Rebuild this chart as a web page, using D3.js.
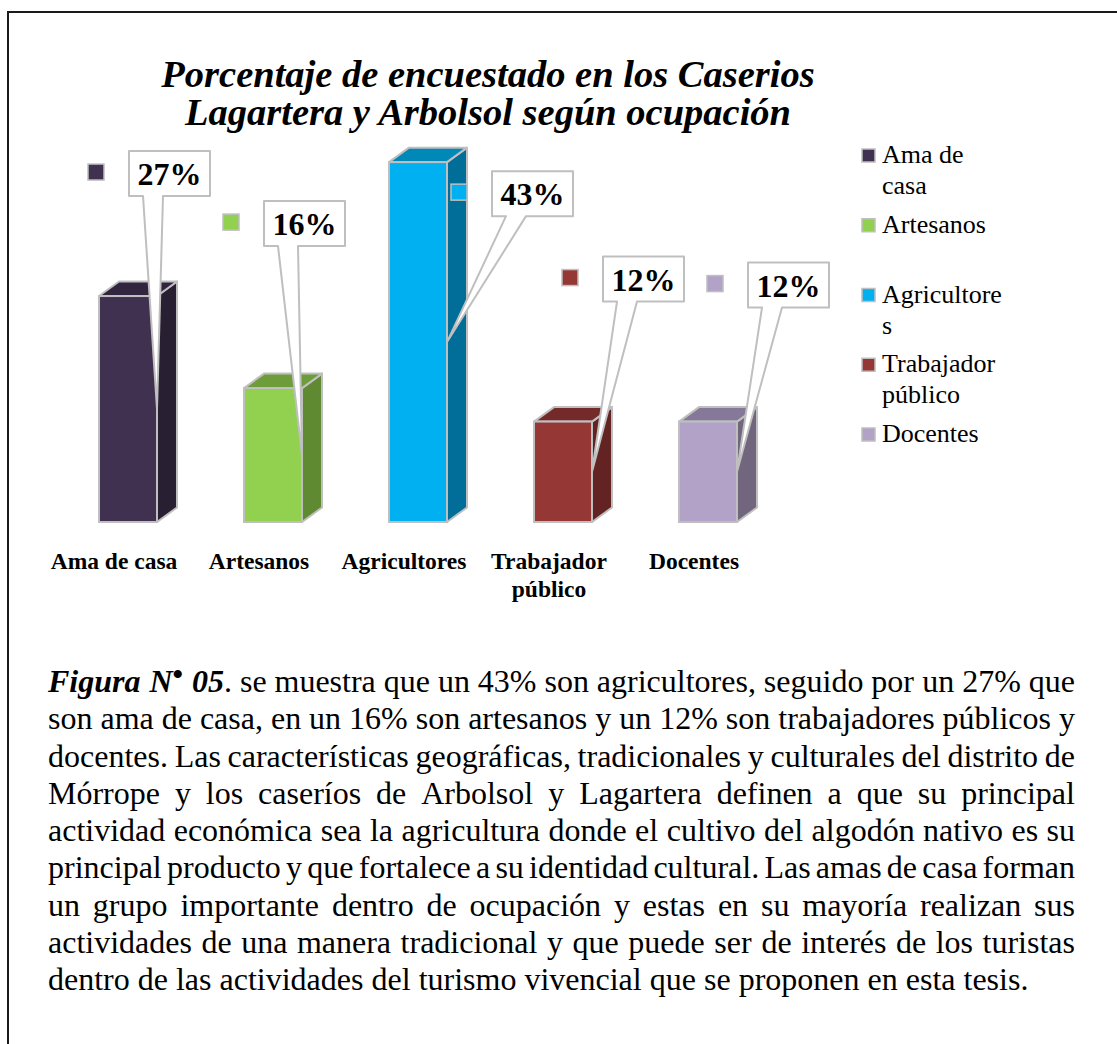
<!DOCTYPE html>
<html>
<head>
<meta charset="utf-8">
<script src="https://cdn.jsdelivr.net/npm/d3@7"></script>
<style>
  body { margin: 0; background: #fff; }
  text { font-family: "Liberation Serif", "Times New Roman", serif; }
</style>
</head>
<body>
<div id="chart"></div>
<script>
// data
var categories = ["Ama de casa", "Artesanos", "Agricultores", "Trabajador público", "Docentes"];
var tickLabels = [["Ama de casa"], ["Artesanos"], ["Agricultores"], ["Trabajador", "público"], ["Docentes"]];
var percentages = [27, 16, 43, 12, 12];
var legendLines = [["Ama de", "casa"], ["Artesanos"], ["Agricultore", "s"], ["Trabajador", "público"], ["Docentes"]];
var titleLines = ["Porcentaje de encuestado en los Caserios", "Lagartera y Arbolsol según ocupación"];
var captionLines = [
  "Figura N• 05. se muestra que un 43% son agricultores, seguido por un 27% que",
  "son ama de casa, en un 16% son artesanos y un 12% son trabajadores públicos y",
  "docentes. Las características geográficas, tradicionales y culturales del distrito de",
  "Mórrope y los caseríos de Arbolsol y Lagartera definen a que su principal",
  "actividad económica sea la agricultura donde el cultivo del algodón nativo es su",
  "principal producto y que fortalece a su identidad cultural. Las amas de casa forman",
  "un grupo importante dentro de ocupación y estas en su mayoría realizan sus",
  "actividades de una manera tradicional y que puede ser de interés de los turistas",
  "dentro de las actividades del turismo vivencial que se proponen en esta tesis."
];

// colours: front, side, top
var frontColors = ["#413151", "#92d050", "#00b0f0", "#953735", "#b3a2c7"];
var sideColors = ["#281f33", "#5f8a32", "#006e99", "#622322", "#72667f"];
var topColors = ["#31253f", "#6f9c3a", "#0088b8", "#732a28", "#867899"];

// where each data label box sits, relative to the bar's front top-right corner
var labelOffsets = [[-28, -145], [-38, -187], [45, 9], [11, -165], [11, -159]];

var W = 1117, H = 1044;
var depthX = 20, depthY = 14.5;
var edge = "#bfbfbf";

var svg = d3.select("#chart").append("svg")
    .attr("width", W)
    .attr("height", H);

// page border (left + top)
svg.append("path")
    .attr("d", "M8," + H + "V12H" + W)
    .attr("fill", "none")
    .attr("stroke", "#1a1a1a")
    .attr("stroke-width", 2);

// scales
var x = d3.scaleBand()
    .domain(categories)
    .range([55.5, 780.5])
    .paddingInner(0.6)
    .paddingOuter(0.3);

var y = d3.scaleLinear()
    .domain([0, 45])
    .range([522, 145.4]);

// title
svg.append("g").selectAll("text")
    .data(titleLines)
    .enter().append("text")
    .attr("x", 488)
    .attr("y", function (d, i) { return 87 + i * 38; })
    .attr("text-anchor", "middle")
    .style("font-size", "38.5px")
    .style("font-weight", "bold")
    .style("font-style", "italic")
    .text(function (d) { return d; });

//////////
// BARS //
//////////
var bars = svg.append("g").selectAll("g")
    .data(percentages)
    .enter().append("g");

// right face
bars.append("path")
    .attr("d", function (d, i) {
        var x1 = x(categories[i]) + x.bandwidth();
        return "M" + x1 + "," + y(0) + "L" + (x1 + depthX) + "," + (y(0) - depthY) +
            "L" + (x1 + depthX) + "," + (y(d) - depthY) + "L" + x1 + "," + y(d) + "Z";
    })
    .attr("fill", function (d, i) { return sideColors[i]; })
    .attr("stroke", edge)
    .attr("stroke-width", 2)
    .attr("stroke-linejoin", "round");

// top face
bars.append("path")
    .attr("d", function (d, i) {
        var x0 = x(categories[i]), x1 = x0 + x.bandwidth();
        return "M" + x0 + "," + y(d) + "L" + (x0 + depthX) + "," + (y(d) - depthY) +
            "L" + (x1 + depthX) + "," + (y(d) - depthY) + "L" + x1 + "," + y(d) + "Z";
    })
    .attr("fill", function (d, i) { return topColors[i]; })
    .attr("stroke", edge)
    .attr("stroke-width", 2)
    .attr("stroke-linejoin", "round");

// front face
bars.append("rect")
    .attr("x", function (d, i) { return x(categories[i]); })
    .attr("y", function (d) { return y(d); })
    .attr("width", x.bandwidth())
    .attr("height", function (d) { return y(0) - y(d); })
    .attr("fill", function (d, i) { return frontColors[i]; })
    .attr("stroke", edge)
    .attr("stroke-width", 2);

// category labels
var ticks = svg.append("g").selectAll("text")
    .data(tickLabels)
    .enter().append("text")
    .attr("text-anchor", "middle")
    .style("font-size", "23.5px")
    .style("font-weight", "bold");
ticks.selectAll("tspan")
    .data(function (d, i) { return d.map(function (t) { return { t: t, i: i }; }); })
    .enter().append("tspan")
    .attr("x", function (d) { return x(categories[d.i]) + x.bandwidth() / 2 - 14; })
    .attr("y", function (d, j) { return 569 + j * 28; })
    .text(function (d) { return d.t; });

/////////////////
// DATA LABELS //
/////////////////
var boxW = 81, boxH = 45;
var labels = svg.append("g").selectAll("g")
    .data(percentages)
    .enter().append("g");

function boxPos(d, i) {
    var rx = x(categories[i]) + x.bandwidth();
    return { bx: rx + labelOffsets[i][0], by: y(d) + labelOffsets[i][1], tipX: rx, tipY: (y(d) + y(0)) / 2 };
}

labels.append("path")
    .attr("d", function (d, i) {
        var p = boxPos(d, i);
        return "M" + p.bx + "," + p.by + "H" + (p.bx + boxW) + "V" + (p.by + boxH) +
            "H" + (p.bx + 34) + "L" + p.tipX + "," + p.tipY + "L" + (p.bx + 14) + "," + (p.by + boxH) +
            "H" + p.bx + "Z";
    })
    .attr("fill", "#fff")
    .attr("stroke", edge)
    .attr("stroke-width", 2)
    .attr("stroke-linejoin", "round");

labels.append("text")
    .attr("x", function (d, i) { return boxPos(d, i).bx + boxW / 2; })
    .attr("y", function (d, i) { return boxPos(d, i).by + 34; })
    .attr("text-anchor", "middle")
    .style("font-size", "32px")
    .style("font-weight", "bold")
    .text(function (d) { return d + "%"; });

// legend key squares next to labels
labels.append("rect")
    .attr("x", function (d, i) { return boxPos(d, i).bx - 41; })
    .attr("y", function (d, i) { return boxPos(d, i).by + boxH / 2 - 9.5; })
    .attr("width", 16)
    .attr("height", 16)
    .attr("fill", function (d, i) { return frontColors[i]; })
    .attr("stroke", edge)
    .attr("stroke-width", 1.5);

////////////
// LEGEND //
////////////
var legend = svg.append("g").selectAll("g")
    .data(legendLines)
    .enter().append("g")
    .attr("transform", function (d, i) { return "translate(0," + (163 + i * 69.75) + ")"; });

legend.append("rect")
    .attr("x", 862)
    .attr("y", -14)
    .attr("width", 13)
    .attr("height", 13)
    .attr("fill", function (d, i) { return frontColors[i]; })
    .attr("stroke", edge)
    .attr("stroke-width", 1.5);

legend.append("text")
    .style("font-size", "26px")
    .selectAll("tspan")
    .data(function (d) { return d; })
    .enter().append("tspan")
    .attr("x", 882)
    .attr("y", function (d, j) { return j * 31; })
    .text(function (d) { return d; });

/////////////
// CAPTION //
/////////////
var capLeft = 48, capRight = 1075, capSize = 32;
var caption = svg.append("g").style("font-size", capSize + "px");

captionLines.forEach(function (line, li) {
    var by = 692 + li * 37.25;
    var words = line.split(" ");
    var nodes = words.map(function (w, wi) {
        var t = caption.append("text").attr("y", by);
        if (li === 0 && wi < 3) {
            var bi = t.append("tspan").style("font-weight", "bold").style("font-style", "italic");
            if (w === "N•") {
                bi.text("N");
                t.append("tspan").attr("dy", -8).style("font-size", "30px")
                    .style("font-weight", "bold").text("•");
                t.append("tspan").attr("dy", 8).text("");
            } else if (w === "05.") {
                bi.text("05");
                t.append("tspan").text(".");
            } else {
                bi.text(w);
            }
        } else {
            t.text(w);
        }
        return t;
    });
    var widths = nodes.map(function (t) { return t.node().getBBox().width; });
    var total = d3.sum(widths);
    var last = li === captionLines.length - 1;
    var gap = last ? capSize * 0.25 : (capRight - capLeft - total) / (words.length - 1);
    var cx = capLeft;
    nodes.forEach(function (t, k) {
        t.attr("x", cx);
        cx += widths[k] + gap;
    });
});
</script>
</body>
</html>
